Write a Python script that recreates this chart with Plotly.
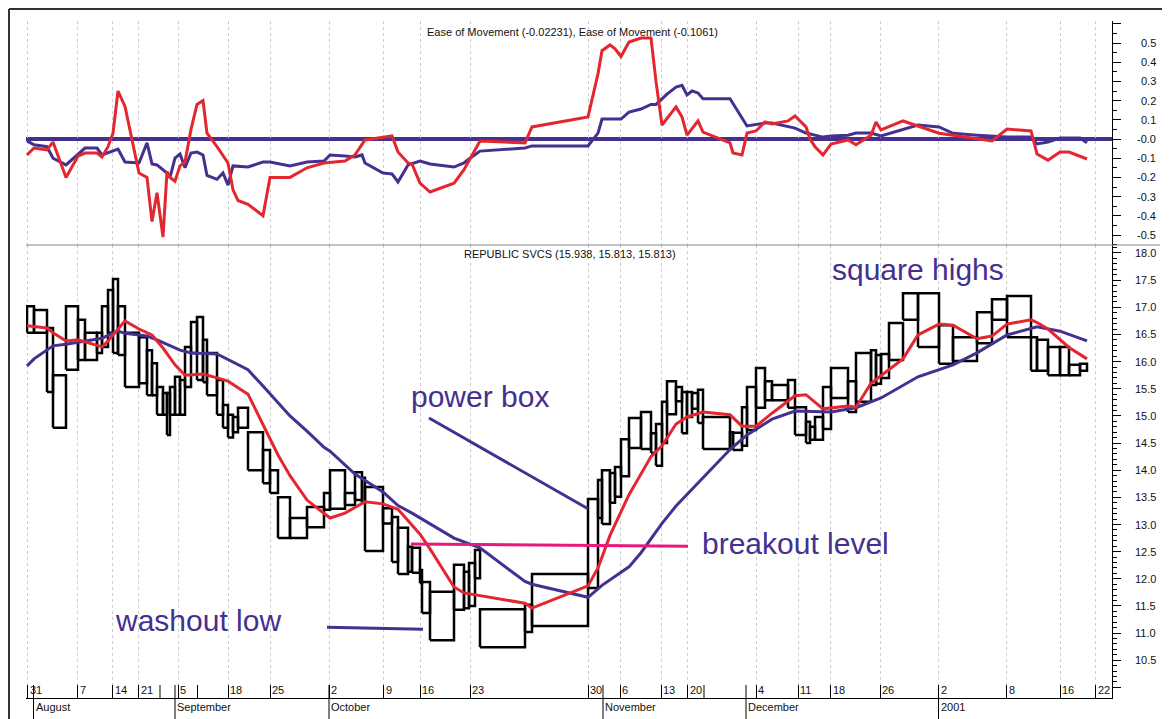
import numpy as np
import plotly.graph_objects as go

# ______________________________________________________ #
# Equivolume chart of Republic Services (Jul 2000 - Jan 2001)
# box width = volume, box height = daily high/low range
# ______________________________________________________ #

volume = [7, 13, 6, 13, 12, 7, 12, 5, 6, 5, 5, 7, 14, 8, 5, 5, 6, 4, 3, 5,
          5, 5, 6, 6, 6, 4, 10, 6, 5, 5, 5, 10, 15, 7, 8, 12, 17, 17, 6, 15,
          10, 7, 3, 18, 9, 6, 10, 4, 8, 2, 8, 24, 10, 5, 6, 5, 45, 7, 56, 10,
          4, 8, 5, 6, 8, 12, 10, 5, 6, 5, 9, 6, 5, 5, 6, 5, 27, 3, 9, 5,
          9, 9, 7, 16, 7, 11, 4, 5, 8, 8, 17, 8, 15, 5, 5, 8, 14, 15, 21, 14,
          24, 15, 15, 24, 6, 11, 12, 9, 11, 7]

high = [17.02, 16.95, 16.62, 15.75, 17.02, 16.77, 16.53, 16.53, 17.02, 17.32,
        17.52, 17.02, 16.53, 16.45, 16.21, 15.97, 15.53, 15.42, 15.42, 15.53,
        15.72, 15.66, 16.27, 16.73, 16.82, 16.40, 16.16, 15.66, 15.20, 15.02,
        14.98, 15.15, 14.70, 14.37, 14.00, 13.50, 13.12, 13.32, 13.58, 14.00,
        13.58, 13.96, 13.86, 13.69, 13.30, 13.14, 12.94, 12.59, 12.57, 12.16,
        11.94, 11.76, 12.26, 12.13, 12.29, 12.53, 11.44, 11.52, 12.09, 13.47,
        13.82, 14.00, 13.95, 14.06, 14.57, 14.96, 15.07, 14.68, 14.85, 15.26,
        15.64, 15.53, 15.44, 15.44, 15.42, 15.48, 14.98, 14.70, 14.69, 15.16,
        15.53, 15.88, 15.64, 15.57, 15.66, 15.16, 14.89, 14.80, 14.98, 15.53,
        15.88, 15.64, 16.16, 16.21, 16.12, 16.14, 16.71, 17.26, 17.26, 16.67,
        16.45, 16.91, 17.15, 17.21, 16.45, 16.40, 16.27, 16.27, 15.94, 15.96]

low = [16.53, 16.53, 15.44, 14.78, 15.85, 16.03, 16.03, 16.16, 16.27, 16.53,
       16.16, 16.12, 15.53, 15.60, 15.38, 15.38, 15.02, 15.02, 14.65, 15.02,
       15.02, 15.02, 15.53, 16.16, 15.66, 15.62, 15.38, 15.02, 14.78, 14.60,
       14.70, 14.78, 14.00, 13.76, 13.58, 12.75, 12.75, 12.95, 13.27, 13.29,
       13.36, 13.45, 13.40, 12.51, 13.02, 12.31, 12.09, 12.13, 12.11, 11.92,
       11.37, 10.87, 11.43, 11.46, 11.50, 12.01, 10.74, 11.02, 11.13, 11.83,
       13.12, 13.01, 13.40, 13.51, 13.89, 14.41, 14.39, 14.32, 14.08, 14.50,
       15.03, 15.27, 14.68, 14.98, 15.13, 14.87, 14.39, 14.39, 14.37, 14.45,
       14.74, 15.15, 15.29, 15.29, 15.15, 14.65, 14.50, 14.56, 14.56, 14.76,
       15.33, 15.07, 15.26, 15.57, 15.59, 15.70, 16.03, 16.77, 16.27, 15.96,
       16.01, 16.34, 16.77, 16.45, 15.83, 15.83, 15.75, 15.75, 15.75, 15.83]

# moving averages, sampled at box edges (edge index, value)
ma_fast_idx = [0, 2, 3, 4, 5, 8, 9, 12, 13, 15, 17, 20, 22, 25, 27, 29, 32, 33, 35, 36,
               37, 39, 40, 43, 44, 46, 49, 51, 52, 53, 57, 58, 59, 60, 62, 65, 67, 69, 71, 73,
               76, 77, 79, 81, 83, 85, 86, 89, 91, 92, 93, 97, 98, 99, 100, 101, 102, 103, 104, 105,
               106, 108, 110]
ma_fast = [16.66, 16.62, 16.53, 16.38, 16.40, 16.27, 16.38, 16.75, 16.60, 16.49,
           16.25, 15.94, 15.75, 15.77, 15.70, 15.64, 15.40, 14.85, 14.28, 13.90,
           13.45, 13.12, 13.21, 13.42, 13.38, 13.28, 12.82, 12.55, 11.85, 11.74,
           11.55, 11.46, 11.87, 12.20, 12.80, 13.55, 14.25, 14.45, 14.85, 14.98,
           15.07, 15.02, 14.81, 14.81, 15.05, 15.37, 15.39, 15.13, 15.18, 15.16,
           15.60, 16.05, 16.49, 16.69, 16.67, 16.42, 16.47, 16.69, 16.77, 16.72,
           16.60, 16.26, 16.05]

ma_slow_idx = [0, 1, 3, 4, 8, 10, 11, 12, 14, 16, 21, 23, 27, 30, 32, 33, 35, 36, 37, 38,
               39, 41, 44, 46, 48, 52, 56, 57, 58, 59, 61, 65, 66, 69, 71, 76, 77, 80, 83, 85,
               90, 92, 95, 98, 100, 101, 103, 105, 107, 110]
ma_slow = [15.92, 16.05, 16.29, 16.32, 16.43, 16.53, 16.56, 16.52, 16.47, 16.40,
           16.21, 16.16, 16.14, 15.99, 15.85, 15.55, 15.25, 15.00, 14.72, 14.42,
           14.35, 13.93, 13.60, 13.35, 13.21, 12.75, 12.57, 11.95, 11.90, 11.66,
           11.88, 12.22, 12.48, 13.02, 13.34, 13.87, 14.38, 14.65, 14.94, 15.09,
           15.07, 15.15, 15.33, 15.72, 15.94, 16.16, 16.49, 16.64, 16.56, 16.38]

# ease of movement, two smoothings
eom_slow_idx = [0, 1, 2, 3, 4, 6, 7, 8, 11, 12, 13, 14, 15, 16, 18, 19, 20, 21, 22, 23,
                24, 25, 26, 27, 28, 29, 30, 32, 33, 34, 36, 37, 38, 39, 40, 41, 42, 43, 44, 45,
                46, 47, 49, 51, 52, 53, 54, 56, 57, 58, 59, 60, 61, 62, 64, 65, 66, 67, 68, 70,
                71, 72, 73, 74, 75, 76, 77, 80, 82, 83, 85, 86, 89, 90, 91, 92, 93, 95, 97, 98,
                99, 100, 101, 103, 104, 105, 106, 107, 109, 110]
eom_slow = [-0.010, -0.030, -0.040, -0.100, -0.135, -0.047, -0.047, -0.083, -0.052, -0.120,
            -0.125, -0.020, -0.130, -0.135, -0.177, -0.200, -0.100, -0.078, -0.150, -0.073,
            -0.068, -0.083, -0.190, -0.210, -0.177, -0.240, -0.140, -0.146, -0.120, -0.120,
            -0.140, -0.120, -0.115, -0.083, -0.089, -0.094, -0.083, -0.125, -0.177, -0.182,
            -0.224, -0.135, -0.115, -0.130, -0.146, -0.125, -0.104, -0.063, -0.047, -0.036,
            -0.036, 0.031, 0.104, 0.104, 0.104, 0.140, 0.156, 0.180, 0.180, 0.234,
            0.270, 0.280, 0.230, 0.250, 0.240, 0.210, 0.210, 0.068, 0.083, 0.083,
            0.057, 0.031, 0.010, 0.016, 0.020, 0.031, 0.031, 0.016, 0.052, 0.073,
            0.063, 0.030, 0.020, 0.010, 0.010, -0.026, -0.016, 0.005, 0.005, -0.020]

eom_fast_idx = [0, 1, 2, 3, 4, 5, 6, 7, 8, 9, 10, 11, 12, 13, 14, 15, 16, 17, 18, 19,
                20, 21, 22, 23, 24, 25, 26, 27, 29, 30, 31, 32, 33, 34, 36, 37, 38, 40, 41, 43,
                45, 46, 47, 48, 49, 51, 52, 53, 56, 57, 58, 59, 60, 61, 62, 63, 64, 65, 66, 67,
                68, 69, 71, 72, 73, 75, 76, 77, 78, 79, 80, 81, 82, 83, 84, 85, 86, 87, 88, 89,
                90, 91, 92, 93, 94, 95, 97, 98, 99, 100, 102, 103, 104, 105, 106, 107, 108, 110]
eom_fast = [-0.083, -0.047, -0.057, -0.016, -0.200, -0.089, -0.073, -0.073, -0.094, -0.040,
            0.030, 0.250, 0.170, -0.177, -0.200, -0.430, -0.280, -0.510, -0.170, -0.200,
            -0.220, -0.140, -0.120, 0.050, 0.180, 0.200, 0.030, -0.040, -0.125, -0.265,
            -0.320, -0.340, -0.400, -0.200, -0.200, -0.150, -0.125, -0.115, -0.083, -0.005,
            0.016, -0.068, -0.125, -0.130, -0.230, -0.276, -0.230, -0.160, -0.010, -0.020,
            0.063, 0.115, 0.340, 0.460, 0.490, 0.470, 0.430, 0.505, 0.526, 0.526,
            0.300, 0.073, 0.167, 0.115, 0.020, 0.094, 0.036, -0.020, -0.073, -0.083,
            0.031, 0.042, 0.089, 0.078, 0.094, 0.120, 0.063, 0.000, -0.040, -0.083,
            -0.026, -0.005, -0.030, 0.020, 0.089, 0.047, 0.094, 0.068, 0.030, 0.020,
            -0.010, 0.052, 0.042, -0.078, -0.110, -0.068, -0.068, -0.104]

# x axis (cumulative volume units)
date_ticks = [0.5, 50.5, 85.5, 111.5, 151, 201, 243, 302, 356.5, 393, 443, 561, 593,
              634, 660.5, 729, 771, 803.5, 853, 911.5, 979.5, 1033, 1068.5]
date_labels = ['31', '7', '14', '21', '5', '18', '25', '2', '9', '16', '23', '30', '6',
               '13', '20', '4', '11', '18', '26', '2', '8', '16', '22']
blank_ticks = [133, 170.5, 677]
month_pos = [6.5, 148, 302, 576, 719, 911.5]
month_labels = ['August', 'September', 'October', 'November', 'December', '2001']

eom_ticks = [0.5, 0.4, 0.3, 0.2, 0.1, 0.0, -0.1, -0.2, -0.3, -0.4, -0.5]
eom_labels = ['0.5', '0.4', '0.3', '0.2', '0.1', '-0.0', '-0.1', '-0.2', '-0.3', '-0.4', '-0.5']
price_ticks = [10.5, 11.0, 11.5, 12.0, 12.5, 13.0, 13.5, 14.0, 14.5, 15.0, 15.5,
               16.0, 16.5, 17.0, 17.5, 18.0]

# hand drawn callouts: (text, x, price) and pointer lines
callouts = [('power box', 382, 15.36), ('square highs', 803, 17.70),
            ('breakout level', 673, 12.65), ('washout low', 86, 11.24)]
power_box_line = ([402, 561], [14.96, 13.29])
washout_line = ([300, 396], [11.11, 11.07])
breakout_line = ([384, 661], [12.64, 12.60])

PURPLE = '#45308f'
RED = '#e3262f'
PINK = '#e8197d'
FONT = 'Liberation Sans, Arial, sans-serif'

# the page body adds an 8px margin, so the figure is 8px smaller and
# page pixel positions are shifted back by that amount
OFF = 8
W, H = 1170 - OFF, 719 - OFF
def px(p):  # page column -> paper fraction
    return (p - OFF) / W
def py(p):  # page row -> paper fraction
    return (H - (p - OFF)) / H

edges = np.concatenate([[0], np.cumsum(volume)])

bx, by = [], []
for i in range(len(volume)):
    l, r = edges[i], edges[i + 1]
    bx += [l, l, r, r, l, None]
    by += [low[i], high[i], high[i], low[i], low[i], None]

fig = go.Figure()

fig.add_trace(go.Scatter(x=bx, y=by, mode='lines', xaxis='x', yaxis='y2',
                         line=dict(color='black', width=2.5)))
fig.add_trace(go.Scatter(x=edges[ma_slow_idx], y=ma_slow, mode='lines', xaxis='x', yaxis='y2',
                         line=dict(color=PURPLE, width=3)))
fig.add_trace(go.Scatter(x=edges[ma_fast_idx], y=ma_fast, mode='lines', xaxis='x', yaxis='y2',
                         line=dict(color=RED, width=3)))

fig.add_trace(go.Scatter(x=edges[eom_slow_idx], y=eom_slow, mode='lines', xaxis='x2', yaxis='y',
                         line=dict(color=PURPLE, width=3)))
fig.add_trace(go.Scatter(x=edges[eom_fast_idx], y=eom_fast, mode='lines', xaxis='x2', yaxis='y',
                         line=dict(color=RED, width=3)))

# callout lines
for (lx, ly), col in [(power_box_line, PURPLE), (washout_line, PURPLE), (breakout_line, PINK)]:
    fig.add_trace(go.Scatter(x=lx, y=ly, mode='lines', xaxis='x', yaxis='y2',
                             line=dict(color=col, width=3)))

x_dom = [px(26), px(1112)]
x_range = [-1, 1085]

shapes = []
# zero line of the EOM panel
shapes.append(dict(type='line', xref='x2 domain', yref='y', x0=0, x1=1, y0=0, y1=0,
                   line=dict(color=PURPLE, width=4), layer='below'))
# frame + panel separator
shapes.append(dict(type='line', xref='paper', yref='paper', x0=px(9), x1=1, y0=py(9), y1=py(9),
                   line=dict(color='#333', width=2)))
shapes.append(dict(type='line', xref='paper', yref='paper', x0=px(9), x1=px(9), y0=0, y1=py(9),
                   line=dict(color='#333', width=2)))
shapes.append(dict(type='line', xref='paper', yref='paper', x0=px(26), x1=px(1160),
                   y0=py(245), y1=py(245), line=dict(color='#888', width=1)))
# unlabeled week ticks
for t in blank_ticks:
    shapes.append(dict(type='line', xref='x', yref='paper', x0=t, x1=t, y0=py(698), y1=py(685),
                       line=dict(color='black', width=1)))
# month separators
for m in month_pos:
    shapes.append(dict(type='line', xref='x', yref='paper', x0=m, x1=m, y0=py(719), y1=py(685),
                       line=dict(color='black', width=1)))

ann = []
small = dict(family=FONT, size=11, color='#111')
for t, lab in zip(date_ticks, date_labels):
    ann.append(dict(x=t, y=py(690), xref='x', yref='paper', text=lab, showarrow=False,
                    xanchor='left', yanchor='middle', xshift=0, font=small))
for m, lab in zip(month_pos, month_labels):
    ann.append(dict(x=m, y=py(707), xref='x', yref='paper', text=lab, showarrow=False,
                    xanchor='left', yanchor='middle', font=small))
for v, lab in zip(eom_ticks, eom_labels):
    ann.append(dict(x=px(1158), y=v, xref='paper', yref='y', text=lab, showarrow=False,
                    xanchor='right', yanchor='middle', font=small))
for v in price_ticks:
    ann.append(dict(x=px(1158), y=v, xref='paper', yref='y2', text=f'{v:.1f}', showarrow=False,
                    xanchor='right', yanchor='middle', font=small))
ann.append(dict(x=px(572), y=py(32), xref='paper', yref='paper', showarrow=False,
                text='Ease of Movement (-0.02231), Ease of Movement (-0.1061)',
                xanchor='center', yanchor='middle', font=small))
ann.append(dict(x=px(570), y=py(254), xref='paper', yref='paper', showarrow=False,
                text='REPUBLIC SVCS (15.938, 15.813, 15.813)',
                xanchor='center', yanchor='middle', font=small))
for txt, cx, cy in callouts:
    ann.append(dict(x=cx, y=cy, xref='x', yref='y2', text=txt, showarrow=False,
                    xanchor='left', yanchor='middle',
                    font=dict(family=FONT, size=30, color=PURPLE)))

eom_minor = [round(-0.55 + 0.1 * k, 2) for k in range(12)]
price_minor = [round(10.1 + 0.1 * k, 1) for k in range(81)]

fig.update_layout(
    width=W, height=H,
    margin=dict(l=0, r=0, t=0, b=0),
    paper_bgcolor='white', plot_bgcolor='white',
    showlegend=False, hovermode=False,
    font=dict(family=FONT, size=11, color='#111'),
    xaxis=dict(domain=x_dom, range=x_range, anchor='y2',
               tickmode='array', tickvals=date_ticks, showticklabels=False,
               ticks='inside', ticklen=13, tickwidth=1, tickcolor='black',
               showgrid=True, gridcolor='#cccccc', griddash='dot', gridwidth=1,
               showline=True, linecolor='black', linewidth=1, zeroline=False),
    xaxis2=dict(domain=x_dom, range=x_range, anchor='y', matches='x',
                tickmode='array', tickvals=date_ticks, showticklabels=False, ticks='',
                showgrid=True, gridcolor='#cccccc', griddash='dot', gridwidth=1,
                showline=False, zeroline=False),
    yaxis=dict(domain=[py(245), py(21)], range=[-0.552, 0.6146], anchor='x2', side='right',
               tickmode='array', tickvals=[round(-0.5 + 0.1 * k, 1) for k in range(12)],
               showticklabels=False, ticks='outside', ticklen=8, tickcolor='black',
               minor=dict(tickmode='array', tickvals=eom_minor, ticks='outside', ticklen=4,
                          tickcolor='black'),
               showgrid=False, zeroline=False, showline=True, linecolor='black', linewidth=1),
    yaxis2=dict(domain=[py(698), py(245)], range=[9.805, 18.147], anchor='x', side='right',
                tickmode='array', tickvals=[10.0] + price_ticks,
                showticklabels=False, ticks='outside', ticklen=8, tickcolor='black',
                minor=dict(tickmode='array', tickvals=price_minor, ticks='outside', ticklen=4,
                           tickcolor='black'),
                showgrid=False, zeroline=False, showline=True, linecolor='black', linewidth=1),
    shapes=shapes,
    annotations=ann,
)

fig.write_html("out.html")
